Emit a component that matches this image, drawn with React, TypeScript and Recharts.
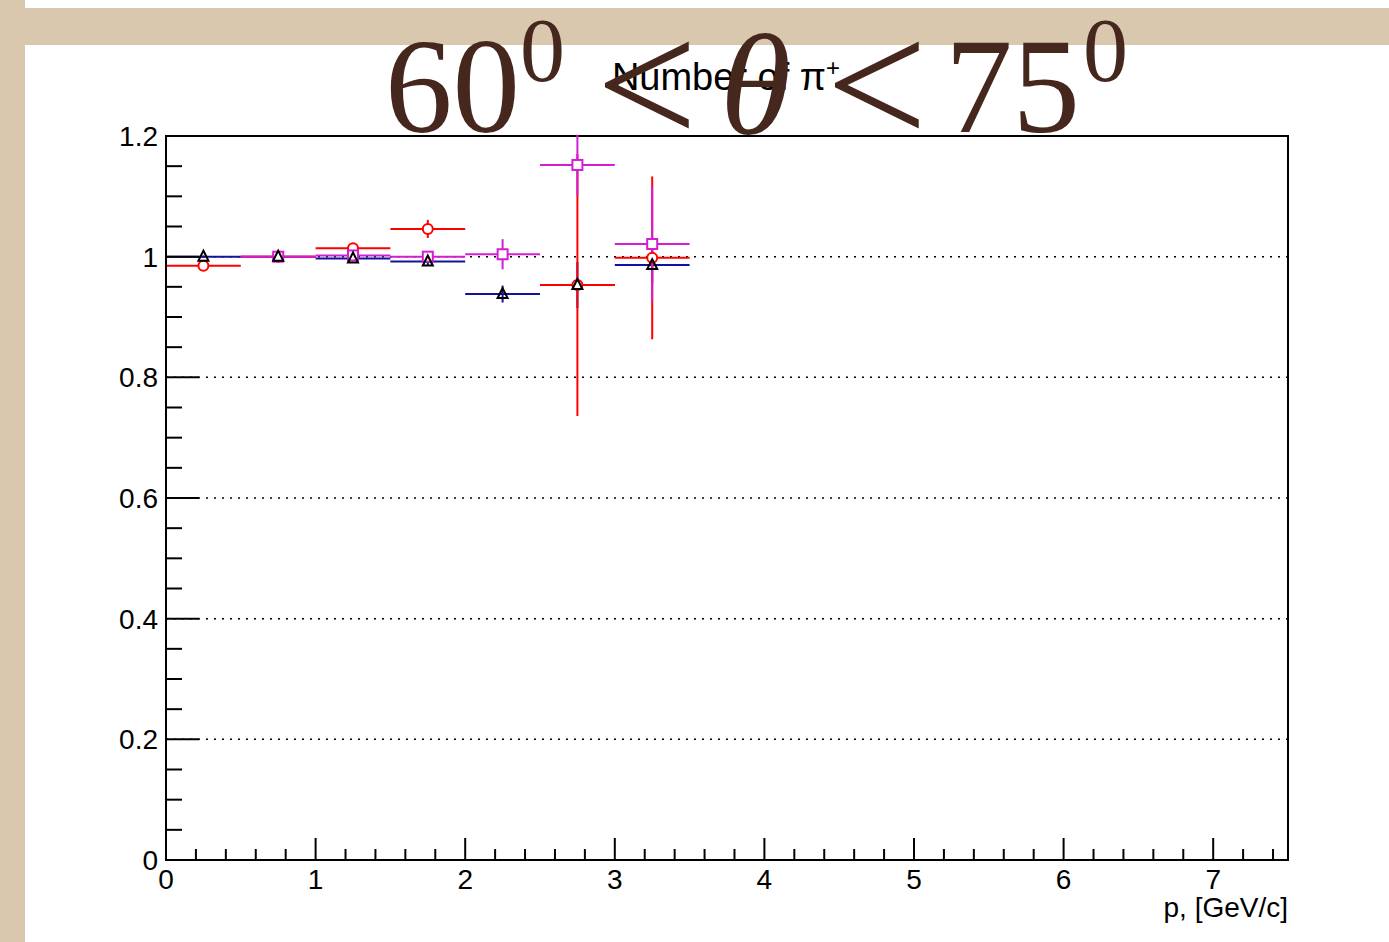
import { ScatterChart, Scatter, XAxis, YAxis, ErrorBar, ReferenceLine, ReferenceArea } from "recharts";

// bin centres in p [GeV/c], each bin is 0.5 wide
const binCenters = [0.25, 0.75, 1.25, 1.75, 2.25, 2.75, 3.25];
const binHalfWidth = 0.25;

// red open circles
const redY = [0.985, 1.0, 1.014, 1.046, null, 0.953, 0.998];
const redErr = [0.003, 0.003, 0.006, 0.015, null, 0.217, 0.135];

// magenta open squares
const magentaY = [null, 1.0, 1.002, 1.0, 1.004, 1.152, 1.021];
const magentaErr = [null, 0.003, 0.004, 0.006, 0.025, 0.05, 0.095];

// blue bars with black triangles
const blueY = [1.0, 1.0, 0.997, 0.992, 0.938, 0.953, 0.986];
const blueErr = [0.002, 0.002, 0.004, 0.006, 0.014, 0.038, 0.03];

const xTickLabels = ["0", "1", "2", "3", "4", "5", "6", "7"];
const yTickLabels = ["0", "0.2", "0.4", "0.6", "0.8", "1", "1.2"];
const yGridValues = [0.2, 0.4, 0.6, 0.8, 1.0, 1.2];

// minor ticks: 5 divisions per unit on x, 4 per 0.2 on y
const xTicks = Array.from({ length: 38 }, (_, i) => +(i * 0.2).toFixed(2));
const yTicks = Array.from({ length: 25 }, (_, i) => +(i * 0.05).toFixed(2));

const FONT = "'Liberation Sans', Arial, Helvetica, sans-serif";
const SERIF = "'Liberation Serif', 'Times New Roman', Times, serif";
const BEIGE = "#d9c8ad";
const BROWN = "#45271d";

const build = (ys: (number | null)[], errs: (number | null)[]) =>
  binCenters
    .map((x, i) => ({ x, y: ys[i], ex: binHalfWidth, ey: errs[i] }))
    .filter((d) => d.y !== null);

const redData = build(redY, redErr);
const magentaData = build(magentaY, magentaErr);
const blueData = build(blueY, blueErr);

const XTick = (props: any) => {
  const { x, y, payload } = props;
  const v = payload.value as number;
  const major = Math.abs(v - Math.round(v)) < 1e-6;
  return (
    <g>
      <line x1={x} x2={x} y1={y} y2={y - (major ? 22 : 11)} stroke="#000" strokeWidth={2} />
      {major && (
        <text x={x} y={y + 29} textAnchor="middle" fontSize={28} fontFamily={FONT} fill="#000">
          {xTickLabels[Math.round(v)]}
        </text>
      )}
    </g>
  );
};

const YTick = (props: any) => {
  const { x, y, payload } = props;
  const v = payload.value as number;
  const k = v * 5;
  const major = Math.abs(k - Math.round(k)) < 1e-6;
  return (
    <g>
      <line x1={x} x2={x + (major ? 33 : 16)} y1={y} y2={y} stroke="#000" strokeWidth={2} />
      {major && (
        <text x={x - 8} y={y + 10} textAnchor="end" fontSize={28} fontFamily={FONT} fill="#000">
          {yTickLabels[Math.round(k)]}
        </text>
      )}
    </g>
  );
};

const OpenCircle = (p: any) => (
  <circle cx={p.cx} cy={p.cy} r={5} fill="#fff" stroke="#ff0000" strokeWidth={2} />
);
const OpenSquare = (p: any) => (
  <rect x={p.cx - 5} y={p.cy - 5} width={10} height={10} fill="#fff" stroke="#d41ed4" strokeWidth={2} />
);
const Triangle = (p: any) => (
  <path
    d={`M${p.cx},${p.cy - 6} L${p.cx + 5},${p.cy + 4} L${p.cx - 5},${p.cy + 4} Z`}
    fill="none"
    stroke="#000"
    strokeWidth={2}
  />
);
const NoMarker = () => <g />;

export default function App() {
  return (
    <div style={{ position: "absolute", left: 0, top: 0, width: 1389, height: 942, background: "#fff", overflow: "hidden" }}>
      <div style={{ position: "absolute", left: 0, top: 8, width: 1389, height: 37, background: BEIGE }} />
      <div style={{ position: "absolute", left: 0, top: 0, width: 25, height: 942, background: BEIGE }} />

      <div style={{ position: "absolute", left: 0, top: 0 }}>
        <ScatterChart width={1389} height={942} margin={{ top: 136, right: 101, bottom: 52, left: 106 }}>
          <XAxis
            dataKey="x"
            type="number"
            domain={[0, 7.5]}
            ticks={xTicks}
            interval={0}
            tick={XTick}
            tickLine={false}
            tickSize={0}
            tickMargin={0}
            height={30}
            axisLine={{ stroke: "#000", strokeWidth: 2 }}
            allowDataOverflow
          />
          <YAxis
            dataKey="y"
            type="number"
            domain={[0, 1.2]}
            ticks={yTicks}
            interval={0}
            tick={YTick}
            tickLine={false}
            tickSize={0}
            tickMargin={0}
            width={60}
            axisLine={{ stroke: "#000", strokeWidth: 2 }}
            allowDataOverflow
          />
          <ReferenceArea x1={0} x2={7.5} y1={0} y2={1.2} fill="none" stroke="#000" strokeWidth={2} />
          {yGridValues.map((v) => (
            <ReferenceLine key={v} y={v} stroke="#000" strokeWidth={1.5} strokeDasharray="2 6" />
          ))}

          <Scatter data={blueData} shape={NoMarker} isAnimationActive={false}>
            <ErrorBar dataKey="ex" direction="x" width={0} stroke="#12129c" strokeWidth={2} />
            <ErrorBar dataKey="ey" direction="y" width={0} stroke="#12129c" strokeWidth={2} />
          </Scatter>
          <Scatter data={redData} shape={OpenCircle} isAnimationActive={false}>
            <ErrorBar dataKey="ex" direction="x" width={0} stroke="#ff0000" strokeWidth={2} />
            <ErrorBar dataKey="ey" direction="y" width={0} stroke="#ff0000" strokeWidth={2} />
          </Scatter>
          <Scatter data={magentaData} shape={OpenSquare} isAnimationActive={false}>
            <ErrorBar dataKey="ex" direction="x" width={0} stroke="#d41ed4" strokeWidth={2} />
            <ErrorBar dataKey="ey" direction="y" width={0} stroke="#d41ed4" strokeWidth={2} />
          </Scatter>
          <Scatter data={blueData} shape={Triangle} isAnimationActive={false} />
        </ScatterChart>
      </div>

      <svg width={1389} height={942} style={{ position: "absolute", left: 0, top: 0, pointerEvents: "none" }}>
        <text x={726} y={90} textAnchor="middle" fontSize={38} fontFamily={FONT} fill="#000">
          Number of π<tspan dy={-14} fontSize={24}>+</tspan>
        </text>
        <text x={1288} y={917} textAnchor="end" fontSize={28} fontFamily={FONT} fill="#000">
          p, [GeV/c]
        </text>

        <g fontFamily={SERIF} fill={BROWN}>
          <text x={385} y={132} fontSize={135}>60</text>
          <text x={520} y={81} fontSize={90}>0</text>
          <text x={596} y={145} fontSize={180}>&lt;</text>
          <text x={720} y={134} fontSize={145} fontStyle="italic">θ</text>
          <text x={826} y={145} fontSize={180}>&lt;</text>
          <text x={945} y={132} fontSize={135}>75</text>
          <text x={1083} y={81} fontSize={90}>0</text>
        </g>
      </svg>
    </div>
  );
}
